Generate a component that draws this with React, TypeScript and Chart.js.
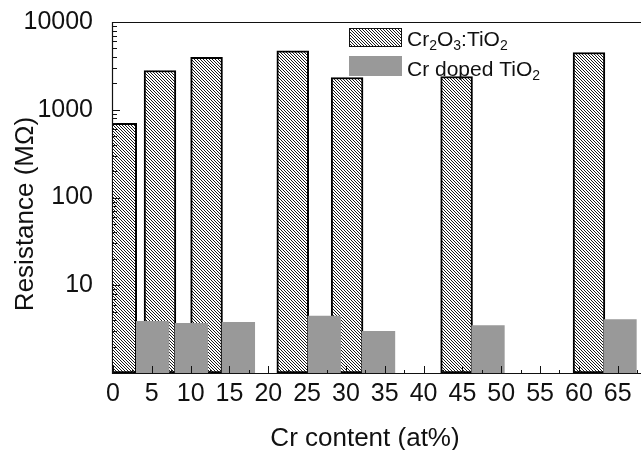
import React, { useEffect, useRef } from 'react';
import { Chart, registerables } from 'chart.js';

Chart.register(...registerables);

// ---- data ----
const hatchedX = [1.0, 6.05, 12.05, 23.15, 30.15, 44.25, 61.3];
const hatchedY = [700, 2800, 3970, 4690, 2330, 2390, 4490];
const dopedX = [5.1, 10.1, 16.15, 27.2, 34.2, 48.3, 65.3];
const dopedY = [3.87, 3.67, 3.77, 4.46, 2.98, 3.48, 4.05];
const xTickLabels = [0, 5, 10, 15, 20, 25, 30, 35, 40, 45, 50, 55, 60, 65];
const yTickLabels = [10, 100, 1000, 10000];
const seriesNames = ['Cr2O3:TiO2', 'Cr doped TiO2'];
// bar widths, in at% units
const hatchedWidth = 4.1;
const dopedWidth = 4.2;

const FONT = '"Liberation Sans", Arial, Helvetica, sans-serif';
const INK = '#111';
const GRAY = '#999999';

function makeHatch(): CanvasPattern | string {
  const c = document.createElement('canvas');
  c.width = 3;
  c.height = 3;
  const g = c.getContext('2d');
  if (!g) return '#888';
  g.fillStyle = '#fff';
  g.fillRect(0, 0, 3, 3);
  g.fillStyle = '#1a1a1a';
  for (let i = 0; i < 3; i++) g.fillRect(i, i, 1, 1);
  const p = g.createPattern(c, 'repeat');
  return p || '#888';
}

const unitWidth = (w: number) => (ctx: any) => {
  const s = ctx.chart.scales && ctx.chart.scales.x;
  if (!s) return 30;
  return s.getPixelForValue(w) - s.getPixelForValue(0);
};

function drawSegments(ctx: CanvasRenderingContext2D, x: number, y: number, segs: [string, boolean][]) {
  let cx = x;
  for (const [t, sub] of segs) {
    ctx.font = sub ? `14px ${FONT}` : `21px ${FONT}`;
    ctx.fillText(t, cx, sub ? y + 4 : y);
    cx += ctx.measureText(t).width;
  }
}

export default function App() {
  const ref = useRef<HTMLCanvasElement | null>(null);

  useEffect(() => {
    if (!ref.current) return;
    const hatch = makeHatch();

    const decor = {
      id: 'decor',
      beforeDatasetsDraw(chart: any) {
        const { ctx, chartArea } = chart;
        const { left, right, top, bottom } = chartArea;
        ctx.save();
        ctx.strokeStyle = INK;
        ctx.lineWidth = 1.2;
        ctx.beginPath();
        ctx.moveTo(left - 0.5, top);
        ctx.lineTo(left - 0.5, bottom + 0.5);
        ctx.lineTo(right, bottom + 0.5);
        ctx.moveTo(left - 0.5, top + 0.5);
        ctx.lineTo(right, top + 0.5);
        ctx.stroke();
        ctx.restore();
      },
      afterDatasetsDraw(chart: any) {
        const { ctx, chartArea, scales } = chart;
        const { left, bottom } = chartArea;
        const xs = scales.x;
        const ys = scales.y;
        ctx.save();
        ctx.strokeStyle = INK;
        ctx.lineWidth = 1;
        ctx.beginPath();
        // y ticks (inside)
        for (let d = 0; d <= 4; d++) {
          for (let m = 1; m <= 9; m++) {
            const v = m * Math.pow(10, d);
            if (v > ys.max || v < ys.min) continue;
            const py = Math.round(ys.getPixelForValue(v)) + 0.5;
            const len = m === 1 ? 7 : 4;
            ctx.moveTo(left, py);
            ctx.lineTo(left + len, py);
          }
        }
        // x ticks (inside)
        for (let v = 0; v <= xs.max + 1e-9; v += 2.5) {
          const px = Math.round(xs.getPixelForValue(v)) + 0.5;
          const major = Math.abs(v / 5 - Math.round(v / 5)) < 1e-9;
          const len = major ? 7 : 3;
          ctx.moveTo(px, bottom);
          ctx.lineTo(px, bottom - len);
        }
        ctx.stroke();

        // legend
        ctx.fillStyle = hatch as any;
        ctx.fillRect(349, 28, 53, 19);
        ctx.strokeStyle = INK;
        ctx.lineWidth = 1;
        ctx.strokeRect(349.5, 28.5, 52, 18);
        ctx.fillStyle = GRAY;
        ctx.fillRect(349, 56, 53, 20);

        ctx.fillStyle = INK;
        ctx.textAlign = 'left';
        ctx.textBaseline = 'alphabetic';
        drawSegments(ctx, 407, 46, [
          ['Cr', false], ['2', true], ['O', false], ['3', true], [':TiO', false], ['2', true],
        ]);
        drawSegments(ctx, 407, 76, [['Cr doped TiO', false], ['2', true]]);

        // axis titles
        ctx.font = `26px ${FONT}`;
        ctx.textAlign = 'center';
        ctx.fillText('Cr content (at%)', 365, 446);
        ctx.translate(33, 214);
        ctx.rotate(-Math.PI / 2);
        ctx.fillText('Resistance (M\u03A9)', 0, 0);
        ctx.restore();
      },
    };

    const chart = new Chart(ref.current, {
      type: 'bar',
      data: {
        datasets: [
          {
            label: seriesNames[1],
            data: dopedX.map((x, i) => ({ x, y: dopedY[i] })),
            backgroundColor: GRAY,
            borderWidth: 0,
            grouped: false,
            order: 0,
            clip: 0,
            barThickness: unitWidth(dopedWidth),
          } as any,
          {
            label: seriesNames[0],
            data: hatchedX.map((x, i) => ({ x, y: hatchedY[i] })),
            backgroundColor: hatch,
            borderColor: '#000',
            borderWidth: 2,
            borderSkipped: false,
            grouped: false,
            order: 1,
            clip: 0,
            barThickness: unitWidth(hatchedWidth),
          } as any,
        ],
      },
      options: {
        animation: false,
        responsive: false,
        maintainAspectRatio: false,
        layout: { padding: { top: 22, right: 0, left: 0, bottom: 0 } },
        plugins: {
          legend: { display: false },
          tooltip: { enabled: false },
        },
        scales: {
          x: {
            type: 'linear',
            offset: false,
            min: 0,
            max: 68,
            grid: { display: false, drawTicks: false, offset: false },
            border: { display: false },
            ticks: {
              stepSize: 5,
              includeBounds: false,
              autoSkip: false,
              maxRotation: 0,
              minRotation: 0,
              padding: 6,
              color: INK,
              font: { family: FONT, size: 25 },
              callback: (v: any) => (xTickLabels.includes(Number(v)) ? String(v) : ''),
            },
            afterFit: (s: any) => {
              s.height = 77;
              s.paddingLeft = 0;
              s.paddingRight = 0;
            },
          },
          y: {
            type: 'logarithmic',
            min: 1,
            max: 10000,
            grid: { display: false, drawTicks: false },
            border: { display: false },
            ticks: {
              autoSkip: false,
              padding: 20,
              color: INK,
              font: { family: FONT, size: 25 },
              callback: (v: any) => {
                const n = Number(v);
                return yTickLabels.some((t) => Math.abs(t - n) < 1e-6) ? String(Math.round(n)) : '';
              },
            },
            afterFit: (s: any) => {
              s.width = 113;
              s.paddingTop = 0;
              s.paddingBottom = 0;
            },
          },
        },
      } as any,
      plugins: [decor],
    });

    return () => chart.destroy();
  }, []);

  return (
    <div style={{ position: 'fixed', left: 0, top: 0, width: 641, height: 450, background: '#fff' }}>
      <canvas ref={ref} width={641} height={450} style={{ display: 'block' }} />
    </div>
  );
}
